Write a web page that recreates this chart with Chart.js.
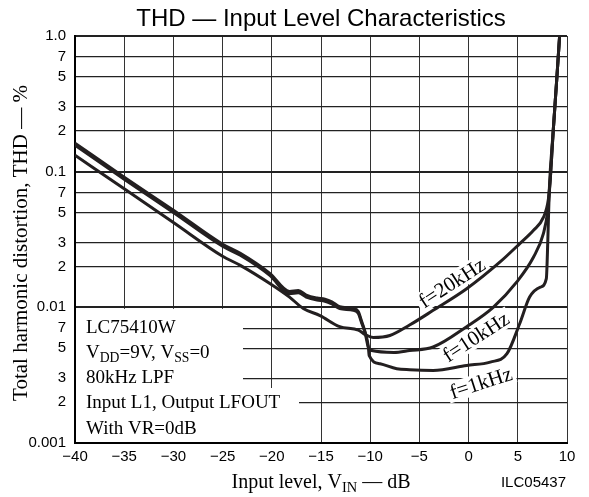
<!DOCTYPE html>
<html>
<head>
<meta charset="utf-8">
<script src="https://cdn.jsdelivr.net/npm/chart.js@4.4.0/dist/chart.umd.min.js"></script>
<style>
  html, body { margin: 0; padding: 0; background: #fff; }
  #wrap { width: 589px; height: 497px; position: relative; }
</style>
</head>
<body>
<div id="wrap"><canvas id="thd"></canvas></div>
<script>
// THD vs input level
const db20k = [-40, -35, -30, -25, -23.2, -20.2, -18.2, -16.8, -15.1, -13.1, -11.2, -10.5, -9.7, -8, -6, -3.6, -0.2, 3.2, 5.2, 6.6, 7.6, 8.1, 8.3, 8.6, 8.95, 9.25];
const thd20k = [0.132, 0.0747, 0.0422, 0.0238, 0.0204, 0.0150, 0.0119, 0.0098, 0.0087, 0.0072, 0.0068, 0.0063, 0.0060, 0.0062, 0.0074, 0.0095, 0.0137, 0.0216, 0.0295, 0.037, 0.046, 0.062, 0.088, 0.2, 0.47, 1.0];

const db10k = [-40, -35, -30, -25, -23.2, -20.2, -18.2, -17.3, -16.5, -15.4, -14.6, -13.9, -13.1, -11.7, -11.2, -10.9, -10.5, -10.2, -9.85, -7.6, -6, -3.6, -0.2, 2.5, 4.9, 6.6, 7.6, 8.05, 8.3, 8.6, 8.95, 9.25];
const thd10k = [0.157, 0.088, 0.050, 0.0282, 0.0242, 0.0172, 0.0126, 0.0128, 0.0119, 0.0113, 0.0111, 0.0106, 0.0098, 0.0095, 0.0090, 0.0078, 0.0064, 0.0051, 0.0048, 0.00465, 0.0048, 0.0051, 0.0072, 0.0100, 0.0154, 0.0235, 0.035, 0.052, 0.088, 0.2, 0.47, 1.0];

const db1k = [-40, -35, -30, -25, -23.2, -20.2, -18.2, -17.3, -16.5, -15.4, -14.6, -13.9, -13.1, -11.7, -11.2, -10.9, -10.5, -10.2, -10.1, -9.0, -7.3, -6, -3.6, -0.2, 2.2, 3.9, 5.2, 6.2, 7.3, 7.9, 8.05, 8.2, 8.6, 8.95, 9.25];
const thd1k = [0.162, 0.091, 0.052, 0.0292, 0.0250, 0.0178, 0.0131, 0.0133, 0.0123, 0.0117, 0.0115, 0.0110, 0.0101, 0.0098, 0.0093, 0.0080, 0.0065, 0.0052, 0.0044, 0.00384, 0.00353, 0.00347, 0.00343, 0.00373, 0.00395, 0.00455, 0.0076, 0.0119, 0.0141, 0.0163, 0.031, 0.073, 0.2, 0.47, 1.0];

const xTickValues = [-40, -35, -30, -25, -20, -15, -10, -5, 0, 5, 10];
const xTickLabels = ['\u221240', '\u221235', '\u221230', '\u221225', '\u221220', '\u221215', '\u221210', '\u22125', '0', '5', '10'];
const yTickValues = [0.001, 0.002, 0.003, 0.005, 0.007, 0.01, 0.02, 0.03, 0.05, 0.07, 0.1, 0.2, 0.3, 0.5, 0.7, 1];
const yTickLabels = ['0.001', '2', '3', '5', '7', '0.01', '2', '3', '5', '7', '0.1', '2', '3', '5', '7', '1.0'];

const curveNames = ['f=20kHz', 'f=10kHz', 'f=1kHz'];

const SANS = '"Liberation Sans", Arial, sans-serif';
const SERIF = '"Liberation Serif", "Times New Roman", serif';
const INK = '#231f20';

function toPoints(xs, ys) {
    return xs.map((x, i) => ({ x: x, y: ys[i] }));
}

// draws text runs with subscripts, returns end x
function drawRich(ctx, parts, x, y, size) {
    parts.forEach(p => {
        const s = p.sub ? size * 0.72 : size;
        ctx.font = s + 'px ' + SERIF;
        ctx.fillText(p.t, x, p.sub ? y + size * 0.2 : y);
        x += ctx.measureText(p.t).width;
    });
    return x;
}

const decorPlugin = {
    id: 'decor',
    beforeDatasetsDraw(chart) {
        const ctx = chart.ctx;
        const ys = chart.scales.y;
        const a = chart.chartArea;
        ctx.save();
        // white boxes behind the conditions note
        ctx.fillStyle = '#fff';
        ctx.fillRect(a.left + 1, ys.getPixelForValue(0.01) + 1.5, 167, 80);
        ctx.fillRect(a.left + 1, 388, 223, a.bottom - 388 - 1);

        ctx.fillStyle = '#000';
        ctx.textBaseline = 'alphabetic';
        ctx.textAlign = 'left';
        const tx = a.left + 11;
        ctx.font = '19px ' + SERIF;
        ctx.fillText('LC75410W', tx, 333);
        drawRich(ctx, [{ t: 'V' }, { t: 'DD', sub: true }, { t: '=9V, V' }, { t: 'SS', sub: true }, { t: '=0' }], tx, 358, 19);
        ctx.font = '19px ' + SERIF;
        ctx.fillText('80kHz LPF', tx, 383);
        ctx.fillText('Input L1, Output LFOUT', tx, 408);
        ctx.fillText('With VR=0dB', tx, 434);

        // curve labels, rotated, on white
        const labels = [
            { t: curveNames[0], x: 452, y: 283, ang: -33 },
            { t: curveNames[1], x: 476, y: 337, ang: -33 },
            { t: curveNames[2], x: 481, y: 383, ang: -18 }
        ];
        ctx.font = '21px ' + SERIF;
        ctx.textAlign = 'center';
        ctx.textBaseline = 'middle';
        labels.forEach(l => {
            ctx.save();
            ctx.translate(l.x, l.y);
            ctx.rotate(l.ang * Math.PI / 180);
            const w = ctx.measureText(l.t).width;
            ctx.fillStyle = '#fff';
            ctx.fillRect(-w / 2 - 3, -10, w + 6, 20);
            ctx.fillStyle = '#000';
            ctx.fillText(l.t, 0, 1);
            ctx.restore();
        });
        ctx.restore();
    },
    afterDraw(chart) {
        const ctx = chart.ctx;
        const a = chart.chartArea;
        ctx.save();
        ctx.fillStyle = '#000';
        // title
        ctx.font = '24px ' + SANS;
        ctx.textAlign = 'center';
        ctx.textBaseline = 'alphabetic';
        ctx.fillText('THD \u2014 Input Level Characteristics', (a.left + a.right) / 2, 26);

        // y axis title
        ctx.save();
        ctx.translate(27, 243);
        ctx.rotate(-Math.PI / 2);
        ctx.font = '21px ' + SERIF;
        ctx.fillText('Total harmonic distortion, THD \u2014 %', 0, 0);
        ctx.restore();

        // x axis title with subscript
        ctx.textAlign = 'left';
        const parts = [{ t: 'Input level, V' }, { t: 'IN', sub: true }, { t: ' \u2014 dB' }];
        let w = 0;
        parts.forEach(p => {
            ctx.font = (p.sub ? 14.4 : 20) + 'px ' + SERIF;
            w += ctx.measureText(p.t).width;
        });
        drawRich(ctx, parts, 321 - w / 2, 488, 20);

        ctx.font = '15px ' + SANS;
        ctx.textAlign = 'right';
        ctx.fillText('ILC05437', a.right - 1, 487);
        ctx.restore();
    }
};

const lineStyle = {
    borderColor: INK,
    borderWidth: 3,
    pointRadius: 0,
    fill: false,
    cubicInterpolationMode: 'monotone'
};

new Chart(document.getElementById('thd'), {
    type: 'line',
    data: {
        datasets: [
            Object.assign({ label: curveNames[0], data: toPoints(db20k, thd20k) }, lineStyle),
            Object.assign({ label: curveNames[1], data: toPoints(db10k, thd10k) }, lineStyle),
            Object.assign({ label: curveNames[2], data: toPoints(db1k, thd1k) }, lineStyle)
        ]
    },
    options: {
        responsive: true,
        maintainAspectRatio: false,
        animation: false,
        layout: { padding: { top: 36, right: 22, left: 0, bottom: 0 } },
        plugins: {
            legend: { display: false },
            tooltip: { enabled: false }
        },
        scales: {
            x: {
                type: 'linear',
                min: -40,
                max: 10,
                afterFit: s => { s.height = 54; },
                afterBuildTicks: s => { s.ticks = xTickValues.map(v => ({ value: v })); },
                ticks: {
                    autoSkip: false,
                    maxRotation: 0,
                    padding: 5,
                    color: '#000',
                    font: { family: SANS, size: 15 },
                    callback: (v, i) => xTickLabels[i]
                },
                grid: {
                    drawTicks: false,
                    color: '#333',
                    lineWidth: 1
                },
                border: { color: '#000', width: 2 }
            },
            y: {
                type: 'logarithmic',
                min: 0.001,
                max: 1,
                afterFit: s => { s.width = 75; },
                afterBuildTicks: s => { s.ticks = yTickValues.map(v => ({ value: v })); },
                ticks: {
                    autoSkip: false,
                    padding: 9,
                    color: '#000',
                    font: { family: SANS, size: 15 },
                    callback: (v, i) => yTickLabels[i]
                },
                grid: {
                    drawTicks: false,
                    color: '#222',
                    lineWidth: c => {
                        const v = c.tick ? c.tick.value : 0;
                        return [0.01, 0.1, 1].includes(v) ? 2 : 1.2;
                    }
                },
                border: { color: '#000', width: 2 }
            }
        }
    },
    plugins: [decorPlugin]
});
</script>
</body>
</html>
